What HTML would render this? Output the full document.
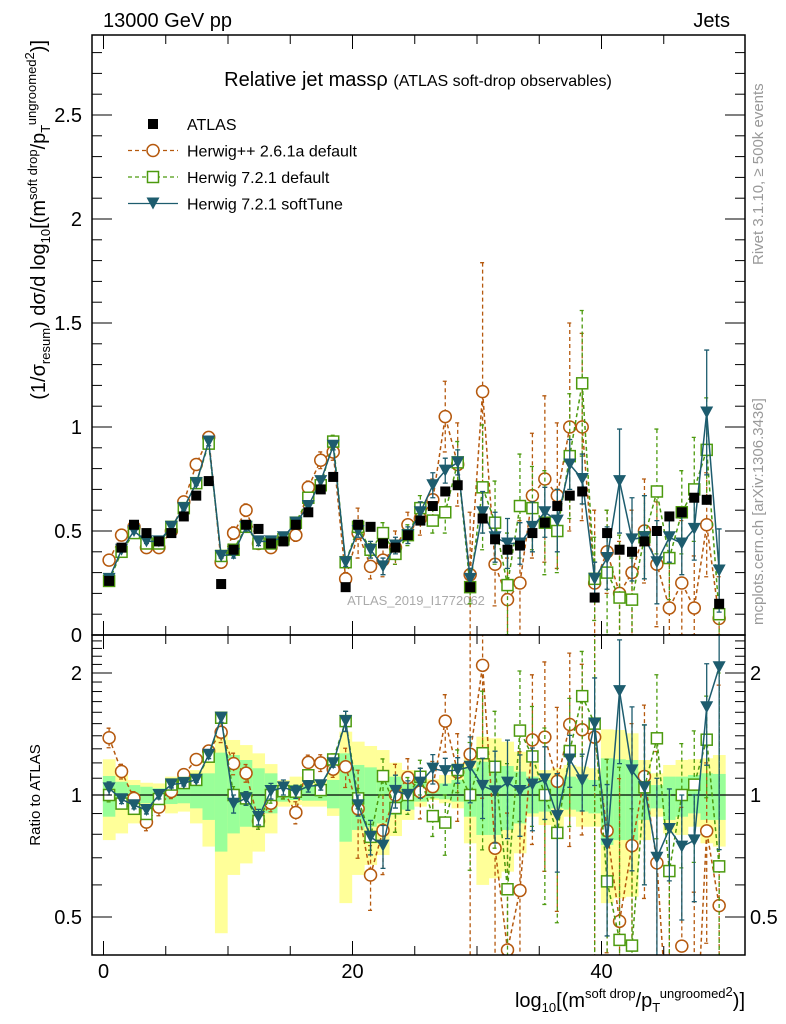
<!DOCTYPE html>
<html><head><meta charset="utf-8"><style>
html,body{margin:0;padding:0;background:#fff;overflow:hidden;width:786px;height:1024px;}
svg{display:block;font-family:"Liberation Sans",Arial,sans-serif;}
</style></head><body>
<svg id="chart" width="786" height="1024" viewBox="0 0 786 1024" xmlns="http://www.w3.org/2000/svg">
<defs>
<clipPath id="clipMain"><rect x="92" y="35" width="653" height="600"/></clipPath>
<clipPath id="clipRatio"><rect x="92" y="635" width="653" height="320"/></clipPath>
</defs>
<text x="103" y="27" font-size="20">13000 GeV pp</text>
<text x="730" y="27" font-size="20" text-anchor="end">Jets</text>
<text x="418" y="86" font-size="20" text-anchor="middle">Relative jet massρ <tspan font-size="16">(ATLAS soft-drop observables)</tspan></text>
<text transform="translate(763,265) rotate(-90)" font-size="15" fill="#999">Rivet 3.1.10, ≥ 500k events</text>
<text transform="translate(763,625) rotate(-90)" font-size="15" fill="#999">mcplots.cern.ch [arXiv:1306.3436]</text>
<text x="416" y="605" font-size="13" fill="#aaa" text-anchor="middle">ATLAS_2019_I1772062</text>
<g id="bands" clip-path="url(#clipRatio)"></g>
<g id="mainMarks" clip-path="url(#clipMain)"></g>
<g id="ratioMarks" clip-path="url(#clipRatio)"></g>
<g id="axes"></g>
<text transform="translate(45,40) rotate(-90)" font-size="20" text-anchor="end">(1/σ<tspan font-size="13" dy="5">resum</tspan><tspan dy="-5">) dσ/d log</tspan><tspan font-size="13" dy="5">10</tspan><tspan dy="-5">[(m</tspan><tspan font-size="13" dy="-8">soft drop</tspan><tspan dy="8">/p</tspan><tspan font-size="13" dy="5">T</tspan><tspan font-size="13" dy="-14">ungroomed</tspan><tspan font-size="13" dy="-2">2</tspan><tspan dy="11">)]</tspan></text>
<text transform="translate(40,795) rotate(-90)" font-size="15" text-anchor="middle">Ratio to ATLAS</text>
<text x="745" y="1007" font-size="20" text-anchor="end">log<tspan font-size="13" dy="5">10</tspan><tspan dy="-5">[(m</tspan><tspan font-size="13" dy="-9">soft drop</tspan><tspan dy="9">/p</tspan><tspan font-size="13" dy="5">T</tspan><tspan font-size="13" dy="-14">ungroomed</tspan><tspan font-size="13" dy="-2">2</tspan><tspan dy="11">)]</tspan></text>
<g id="legend"></g>
</svg>
<script>
const atlas=[0.26,0.42,0.53,0.49,0.45,0.49,0.57,0.67,0.74,0.245,0.41,0.53,0.51,0.44,0.45,0.53,0.59,0.70,0.76,0.23,0.53,0.52,0.44,0.42,0.48,0.55,0.62,0.69,0.72,0.23,0.56,0.46,0.41,0.43,0.49,0.54,0.62,0.67,0.69,0.18,0.49,0.41,0.40,0.45,0.50,0.57,0.59,0.66,0.65,0.15];
const hpp=[0.36,0.48,0.52,0.42,0.42,0.50,0.64,0.82,0.95,0.35,0.49,0.60,0.44,0.42,0.46,0.48,0.71,0.84,0.88,0.27,0.49,0.33,0.36,0.42,0.53,0.56,0.65,1.05,0.82,0.29,1.17,0.34,0.17,0.25,0.67,0.75,0.67,1.0,1.0,0.25,0.40,0.20,0.30,0.50,0.34,0.13,0.25,0.13,0.53,0.08];
const hppErr=[0.02,0.02,0.02,0.02,0.02,0.02,0.02,0.02,0.02,0.02,0.03,0.03,0.02,0.02,0.02,0.03,0.03,0.04,0.04,0.03,0.12,0.06,0.08,0.08,0.06,0.08,0.1,0.17,0.2,0.3,0.62,0.2,0.2,0.3,0.3,0.4,0.35,0.5,0.45,0.35,0.2,0.25,0.3,0.25,0.3,0.25,0.3,0.25,0.25,0.2];
const h721=[0.26,0.40,0.49,0.44,0.44,0.52,0.61,0.73,0.92,0.38,0.41,0.52,0.44,0.44,0.46,0.54,0.66,0.72,0.93,0.35,0.52,0.41,0.49,0.39,0.48,0.61,0.55,0.59,0.83,0.23,0.71,0.54,0.24,0.62,0.61,0.54,0.50,0.86,1.21,0.27,0.30,0.18,0.17,0.47,0.69,0.37,0.59,0.70,0.89,0.10];
const h721Err=[0.01,0.01,0.01,0.01,0.01,0.01,0.01,0.02,0.02,0.01,0.02,0.02,0.02,0.02,0.02,0.02,0.02,0.03,0.03,0.02,0.03,0.03,0.05,0.05,0.05,0.06,0.06,0.1,0.1,0.08,0.3,0.2,0.25,0.25,0.2,0.25,0.2,0.3,0.35,0.2,0.3,0.3,0.2,0.2,0.3,0.2,0.2,0.25,0.25,0.2];
const soft=[0.27,0.41,0.50,0.45,0.45,0.52,0.61,0.73,0.93,0.38,0.39,0.52,0.45,0.45,0.47,0.54,0.62,0.74,0.91,0.35,0.50,0.41,0.33,0.43,0.48,0.59,0.72,0.79,0.83,0.27,0.59,0.47,0.44,0.44,0.52,0.59,0.55,0.82,0.75,0.27,0.37,0.74,0.46,0.47,0.35,0.47,0.44,0.51,1.07,0.31];
const softErr=[0.01,0.01,0.01,0.01,0.01,0.01,0.01,0.01,0.02,0.01,0.02,0.02,0.02,0.02,0.02,0.02,0.02,0.02,0.02,0.02,0.03,0.04,0.04,0.04,0.04,0.05,0.06,0.06,0.06,0.05,0.1,0.12,0.12,0.1,0.12,0.12,0.15,0.12,0.12,0.08,0.15,0.25,0.2,0.2,0.2,0.12,0.15,0.15,0.3,0.2];
const yelUp=[1.225,1.148,1.089,1.072,1.068,1.110,1.110,1.152,1.267,1.420,1.367,1.328,1.267,1.192,1.089,1.110,1.089,1.089,1.152,1.433,1.354,1.321,1.291,1.201,1.152,1.110,1.093,1.120,1.131,1.243,1.393,1.380,1.354,1.279,1.197,1.152,1.164,1.186,1.175,1.164,1.452,1.447,1.420,1.220,1.131,1.186,1.220,1.225,1.232,1.255];
const yelDn=[0.774,0.804,0.851,0.901,0.936,0.901,0.910,0.851,0.746,0.456,0.635,0.678,0.725,0.804,0.936,0.945,0.936,0.936,0.888,0.541,0.635,0.672,0.711,0.792,0.868,0.936,0.972,0.954,0.927,0.760,0.600,0.623,0.647,0.718,0.884,0.843,0.835,0.884,0.835,0.835,0.541,0.556,0.561,0.774,0.884,0.804,0.797,0.835,0.760,0.746];
const grnUp=[1.114,1.078,1.058,1.048,1.039,1.064,1.068,1.099,1.131,1.272,1.255,1.220,1.164,1.131,1.048,1.058,1.052,1.052,1.089,1.267,1.186,1.170,1.152,1.110,1.089,1.089,1.052,1.068,1.089,1.164,1.208,1.186,1.179,1.142,1.110,1.089,1.078,1.110,1.099,1.089,1.232,1.225,1.220,1.142,1.058,1.110,1.110,1.120,1.131,1.127];
const grnDn=[0.884,0.936,0.945,0.954,0.972,0.950,0.954,0.927,0.868,0.725,0.804,0.835,0.868,0.901,0.963,0.972,0.968,0.968,0.927,0.767,0.820,0.835,0.851,0.893,0.920,0.963,0.981,0.976,0.963,0.884,0.797,0.797,0.820,0.851,0.901,0.910,0.927,0.920,0.910,0.901,0.753,0.774,0.774,0.868,0.927,0.868,0.884,0.901,0.868,0.868];
const xTickVals=[0,5,10,15,20,25,30,35,40,45];
const xTickLabels=["0","20","40"];
const yMainTickLabels=["0","0.5","1","1.5","2","2.5"];
const yRatioTickLabels=["0.5","1","2"];

const NS="http://www.w3.org/2000/svg";
function xs(v){return 103.5+v*12.45;}
function ym(v){return 635-v*208;}
function yr(r){return 795-Math.log2(r)*122;}
function center(i){return i+0.45;}
function mk(parent,tag,attrs){const e=document.createElementNS(NS,tag);for(const k in attrs)e.setAttribute(k,attrs[k]);parent.appendChild(e);return e;}
const cHpp="#b5590e",cGrn="#4c9a0e",cSoft="#1d5c6e";
const bands=document.getElementById('bands');
for(let i=0;i<atlas.length;i++){
  const x0=xs(center(i)-0.5),x1=xs(center(i)+0.5);
  const ry=mk(bands,'rect',{x:x0,y:yr(yelUp[i]),width:x1-x0+0.3,height:yr(yelDn[i])-yr(yelUp[i]),fill:'#ffff99'});
  
  
  const rg=mk(bands,'rect',{x:x0,y:yr(grnUp[i]),width:x1-x0+0.3,height:yr(grnDn[i])-yr(grnUp[i]),fill:'#99ff99'});
  
  
}
const one=mk(bands,'line',{x1:92,x2:745,y1:yr(1),y2:yr(1),stroke:'#000','stroke-width':1.3});



function marker(g,type,x,y,color){
  let e;
  if(type==='sq') e=mk(g,'rect',{x:x-5,y:y-5,width:10,height:10,fill:'#000'});
  else if(type==='circ') e=mk(g,'circle',{cx:x,cy:y,r:6,fill:'#fff',stroke:color,'stroke-width':1.5});
  else if(type==='osq') e=mk(g,'rect',{x:x-5.5,y:y-5.5,width:11,height:11,fill:'#fff',stroke:color,'stroke-width':1.5});
  else e=mk(g,'path',{d:`M${x-6.5},${y-6} L${x+6.5},${y-6} L${x},${y+6} Z`,fill:color});
  return e;
}
function series(gp,vals,errs,yf,type,color,dash,name){
  const g=mk(gp,'g',{});
  
  
  let d='';
  vals.forEach((v,i)=>{d+=(i?'L':'M')+xs(center(i))+','+yf(v,i);});
  const ln=mk(g,'path',{d:d,fill:'none',stroke:color,'stroke-width':1.5});
  if(dash) ln.setAttribute('stroke-dasharray','4,3');
  
  
  vals.forEach((v,i)=>{
    const x=xs(center(i));
    if(errs){
      const a=yf(v+errs[i],i),b=yf(Math.max(v-errs[i],0.001),i);
      const eb=mk(g,'path',{d:`M${x},${a}L${x},${b}M${x-2.5},${a}L${x+2.5},${a}M${x-2.5},${b}L${x+2.5},${b}`,stroke:color,'stroke-width':1.3,fill:'none'});
      if(dash) eb.setAttribute('stroke-dasharray','4,3');
      
      
    }
    const m=marker(g,type,x,yf(v,i),color);
    
    
  });
}
const mm=document.getElementById('mainMarks');
series(mm,hpp,hppErr,(v)=>ym(v),'circ',cHpp,true,'herwigpp-main');
series(mm,h721,h721Err,(v)=>ym(v),'osq',cGrn,true,'herwig721-main');
series(mm,soft,softErr,(v)=>ym(v),'tri',cSoft,false,'softtune-main');
(function(){const g=mk(mm,'g',{});
 atlas.forEach((v,i)=>{const m=marker(g,'sq',xs(center(i)),ym(v),'#000');});})();
const rm=document.getElementById('ratioMarks');
function ratioSeries(vals,errs,type,color,dash,name){
  const rv=vals.map((v,i)=>v/atlas[i]);
  const re=errs.map((e,i)=>e/atlas[i]);
  series(rm,rv,re,(v)=>yr(Math.max(v,0.01)),type,color,dash,name);
}
ratioSeries(hpp,hppErr,'circ',cHpp,true,'herwigpp-ratio');
ratioSeries(h721,h721Err,'osq',cGrn,true,'herwig721-ratio');
ratioSeries(soft,softErr,'tri',cSoft,false,'softtune-ratio');

const ax=document.getElementById('axes');
function ln(x1,y1,x2,y2,w,name){const e=mk(ax,'line',{x1,y1,x2,y2,stroke:'#000','stroke-width':w||1});return e;}
const f1=mk(ax,'rect',{x:92,y:35,width:653,height:600,fill:'none',stroke:'#000','stroke-width':1.5});

const f2=mk(ax,'rect',{x:92,y:635,width:653,height:320,fill:'none',stroke:'#000','stroke-width':1.5});

xTickVals.forEach(v=>{const x=xs(v);const L=(v%20===0)?14:9;
 ln(x,955,x,955-L,1,'x-tick');ln(x,635,x,635-L,1,'x-tick-main');ln(x,35,x,35+L,1,'x-tick-top');ln(x,635,x,635+L,1,'x-tick-ratio-top');});
xTickLabels.forEach((t,i)=>{const e=mk(ax,'text',{x:xs(i*20),y:978,'font-size':20,'text-anchor':'middle'});e.textContent=t;});
for(let k=1;k<=28;k++){const v=k/10,y=ym(v);const L=(k%5===0)?20:10;ln(92,y,92+L,y,1,'y-tick-main');ln(745,y,745-L,y,1,'y-tick-main-right');}
yMainTickLabels.forEach((t,i)=>{const e=mk(ax,'text',{x:82,y:ym(i*0.5)+7,'font-size':20,'text-anchor':'end'});e.textContent=t;});
for(let k=5;k<=24;k++){const r=k/10,y=yr(r);if(y<636||y>954)continue;const L=(k===5||k===10||k===20)?20:10;ln(92,y,92+L,y,1,'ratio-y-tick');ln(745,y,745-L,y,1,'ratio-y-tick-right');}
yRatioTickLabels.forEach((t,i)=>{const r=[0.5,1,2][i];
 const a=mk(ax,'text',{x:82,y:yr(r)+7,'font-size':20,'text-anchor':'end'});a.textContent=t;
 const b=mk(ax,'text',{x:750,y:yr(r)+7,'font-size':20});b.textContent=t;});

const lg=document.getElementById('legend');
const legItems=[['ATLAS','sq','#000',false,false],['Herwig++ 2.6.1a default','circ',cHpp,true,true],['Herwig 7.2.1 default','osq',cGrn,true,true],['Herwig 7.2.1 softTune','tri',cSoft,false,true]];
legItems.forEach((it,i)=>{const y=124+i*26.5;
 const g=mk(lg,'g',{});
 if(it[4]){const l=mk(g,'line',{x1:128,x2:178,y1:y,y2:y,stroke:it[2],'stroke-width':1.3});if(it[3])l.setAttribute('stroke-dasharray','4,3');}
 marker(g,it[1],153,y,it[2]);
 const t=mk(g,'text',{x:187,y:y+6,'font-size':16});t.textContent=it[0];});
</script>
</body></html>
